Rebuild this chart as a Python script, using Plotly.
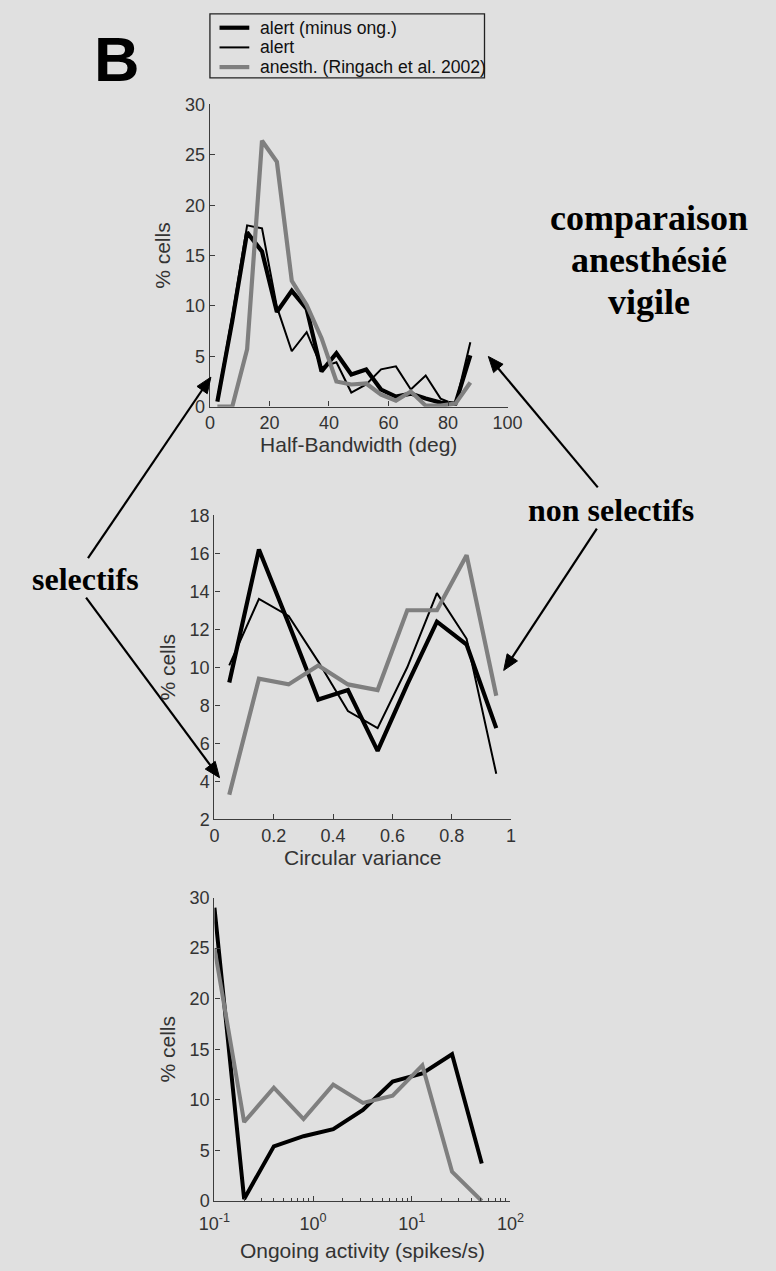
import math
import plotly.graph_objects as go

W, H = 776, 1271

# ---- Orientation tuning: half-bandwidth histogram (bin centres, deg) ----
hbw_bins = [2.5, 7.5, 12.5, 17.5, 22.5, 27.5, 32.5, 37.5, 42.5,
            47.5, 52.5, 57.5, 62.5, 67.5, 72.5, 77.5, 82.5, 87.5]
hbw_alert_minus_ong = [0.5, 8.5, 17.3, 15.4, 9.4, 11.5, 9.7, 3.5, 5.3,
                       3.2, 3.7, 1.7, 1.0, 1.3, 0.8, 0.4, 0.3, 5.1]
hbw_alert = [0.7, 9.0, 18.0, 17.7, 9.9, 5.5, 7.4, 3.9, 4.4,
             1.4, 2.2, 3.7, 4.0, 1.7, 3.1, 0.8, 0.2, 6.4]
hbw_anesth = [0.0, 0.0, 5.7, 26.4, 24.3, 12.5, 10.1, 6.8, 2.5,
              2.2, 2.3, 1.2, 0.6, 1.5, 0.1, 0.1, 0.3, 2.4]

# ---- Circular variance histogram ----
cv_bins = [0.05, 0.15, 0.25, 0.35, 0.45, 0.55, 0.65, 0.75, 0.85, 0.95]
cv_alert_minus_ong = [9.2, 16.2, 12.3, 8.3, 8.8, 5.6, 9.1, 12.4, 11.2, 6.8]
cv_alert = [10.1, 13.6, 12.7, 10.3, 7.7, 6.8, 10.0, 13.9, 11.5, 4.4]
cv_anesth = [3.3, 9.4, 9.1, 10.1, 9.1, 8.8, 13.0, 13.0, 15.9, 8.5]

# ---- Ongoing activity histogram (log-spaced bins, spikes/s) ----
oa_bins = [0.1, 0.2, 0.4, 0.8, 1.6, 3.2, 6.4, 12.8, 25.6, 51.2]
oa_alert = [29.0, 0.2, 5.4, 6.4, 7.1, 9.0, 11.8, 12.6, 14.5, 3.7]
oa_anesth = [25.0, 7.8, 11.2, 8.1, 11.5, 9.7, 10.4, 13.4, 2.9, 0.0]

# ---- Axis ticks ----
hbw_ticks = [0, 20, 40, 60, 80, 100]
hbw_yticks = [0, 5, 10, 15, 20, 25, 30]
cv_ticks = [0, 0.2, 0.4, 0.6, 0.8, 1]
cv_ticktext = ["0", "0.2", "0.4", "0.6", "0.8", "1"]
cv_yticks = [2, 4, 6, 8, 10, 12, 14, 16, 18]
oa_ticks = [0.1, 1, 10, 100]
oa_ticktext = ["10<sup>-1</sup>", "10<sup>0</sup>", "10<sup>1</sup>", "10<sup>2</sup>"]
oa_minor = [m * d for d in (0.1, 1, 10) for m in range(2, 10)]
oa_yticks = [0, 5, 10, 15, 20, 25, 30]

names = ["alert (minus ong.)", "alert", "anesth. (Ringach et al. 2002)"]

BG = "#e0e0e0"
GREY = "#7f7f7f"
AX = "#3c3c3c"
SANS = "Liberation Sans, Arial, sans-serif"
SERIF = "Liberation Serif, Times New Roman, serif"


def px_x(p):
    return p / W


def px_y(p):
    return 1 - p / H


fig = go.Figure()

styles = [dict(color="black", width=4.2),
          dict(color="black", width=2.0),
          dict(color=GREY, width=4.2)]

# top panel
for name, ys, st in zip(names, [hbw_alert_minus_ong, hbw_alert, hbw_anesth], styles):
    fig.add_trace(go.Scatter(x=hbw_bins, y=ys, mode="lines", name=name, line=st,
                             xaxis="x", yaxis="y", showlegend=False))
# middle panel
for name, ys, st in zip(names, [cv_alert_minus_ong, cv_alert, cv_anesth], styles):
    fig.add_trace(go.Scatter(x=cv_bins, y=ys, mode="lines", name=name, line=st,
                             xaxis="x2", yaxis="y2", showlegend=False))
# bottom panel
fig.add_trace(go.Scatter(x=oa_bins, y=oa_alert, mode="lines", name=names[0],
                         line=dict(color="black", width=4.0),
                         xaxis="x3", yaxis="y3", showlegend=False))
fig.add_trace(go.Scatter(x=oa_bins, y=oa_anesth, mode="lines", name=names[2],
                         line=dict(color=GREY, width=4.0),
                         xaxis="x3", yaxis="y3", showlegend=False))

tickfont = dict(family=SANS, size=18, color="#333")
titlefont = dict(family=SANS, size=21, color="#333")

common = dict(showline=True, linecolor=AX, linewidth=1.4, ticks="inside", ticklen=5,
              tickcolor=AX, tickwidth=1.2, showgrid=False, zeroline=False,
              tickfont=tickfont, mirror=False)

fig.update_layout(
    xaxis=dict(domain=[px_x(202), px_x(512)], range=[0, 100], tickvals=hbw_ticks,
               anchor="y", title=dict(text="Half-Bandwidth (deg)", font=titlefont, standoff=4),
               **common),
    yaxis=dict(domain=[px_y(403), px_y(96)], range=[0, 30], tickvals=hbw_yticks,
               anchor="x", title=dict(text="% cells", font=titlefont, standoff=8),
               **common),
    xaxis2=dict(domain=[px_x(206.7), px_x(515.7)], range=[0, 1], tickvals=cv_ticks,
                ticktext=cv_ticktext, anchor="y2",
                title=dict(text="Circular variance", font=titlefont, standoff=4), **common),
    yaxis2=dict(domain=[px_y(822.3), px_y(513.3)], range=[2, 18], tickvals=cv_yticks,
                anchor="x2", title=dict(text="% cells", font=titlefont, standoff=8),
                **common),
    xaxis3=dict(domain=[px_x(206.7), px_x(515)], type="log", range=[-1, 2],
                tickvals=oa_ticks, ticktext=oa_ticktext, anchor="y3",
                ticklabelstandoff=6,
                minor=dict(tickvals=oa_minor, ticks="inside", ticklen=3,
                           tickcolor=AX, tickwidth=1),
                title=dict(text="Ongoing activity (spikes/s)", font=titlefont, standoff=10),
                **common),
    yaxis3=dict(domain=[px_y(1210), px_y(901.7)], range=[0, 30], tickvals=oa_yticks,
                anchor="x3", title=dict(text="% cells", font=titlefont, standoff=8),
                **common),
)

shapes = []
annotations = []

# key box with line samples and labels
legend_rows = [18, 38, 58]
shapes.append(dict(type="rect", xref="paper", yref="paper",
                   x0=px_x(202), x1=px_x(488), y0=px_y(69), y1=px_y(4),
                   line=dict(color="#222", width=1.3), fillcolor="rgba(0,0,0,0)"))
for name, st, row in zip(names, styles, legend_rows):
    shapes.append(dict(type="line", xref="paper", yref="paper",
                       x0=px_x(212), x1=px_x(243), y0=px_y(row), y1=px_y(row),
                       line=st))
    annotations.append(dict(text=name, x=px_x(252), y=px_y(row), xref="paper", yref="paper",
                            showarrow=False, xanchor="left", yanchor="middle",
                            font=dict(family=SANS, size=17.6, color="#111")))

# panel letter
annotations.append(dict(text="<b>B</b>", x=px_x(105), y=px_y(49.5), xref="paper", yref="paper",
                        showarrow=False, font=dict(family=SANS, size=63, color="black"),
                        xanchor="center", yanchor="middle"))

# side labels
for line, yc in zip(["comparaison", "anesthésié", "vigile"], [211, 254, 297]):
    annotations.append(dict(text="<b>" + line + "</b>", x=px_x(659), y=px_y(yc),
                            xref="paper", yref="paper", showarrow=False,
                            font=dict(family=SERIF, size=36, color="black"),
                            xanchor="center", yanchor="middle"))
annotations.append(dict(text="<b>non selectifs</b>", x=px_x(619.5), y=px_y(508),
                        xref="paper", yref="paper", showarrow=False,
                        font=dict(family=SERIF, size=32, color="black"),
                        xanchor="center", yanchor="middle"))
annotations.append(dict(text="<b>selectifs</b>", x=px_x(72), y=px_y(578),
                        xref="paper", yref="paper", showarrow=False,
                        font=dict(family=SERIF, size=32, color="black"),
                        xanchor="center", yanchor="middle"))


def arrow_shapes(tail, tip, head_len=16.0, head_half=6.5, width=2.2):
    """Shaft plus filled triangular head, given in page pixels."""
    dx, dy = tip[0] - tail[0], tip[1] - tail[1]
    length = math.hypot(dx, dy)
    ux, uy = dx / length, dy / length
    bx, by = tip[0] - ux * head_len, tip[1] - uy * head_len
    nx, ny = -uy, ux
    lx, ly = bx + nx * head_half, by + ny * head_half
    rx, ry = bx - nx * head_half, by - ny * head_half
    shaft = dict(type="line", xref="paper", yref="paper",
                 x0=px_x(tail[0]), y0=px_y(tail[1]), x1=px_x(bx + ux), y1=px_y(by + uy),
                 line=dict(color="black", width=width))
    path = "M {:.5f},{:.5f} L {:.5f},{:.5f} L {:.5f},{:.5f} Z".format(
        px_x(tip[0]), px_y(tip[1]), px_x(lx), px_y(ly), px_x(rx), px_y(ry))
    head = dict(type="path", xref="paper", yref="paper", path=path,
                fillcolor="black", line=dict(color="black", width=1))
    return [shaft, head]


for tail, tip in [((75, 557), (203, 373)),
                  ((73, 597), (212, 780)),
                  ((606, 485), (492, 352)),
                  ((605, 527), (508, 671))]:
    shapes += arrow_shapes(tail, tip)

fig.update_layout(
    width=W, height=H, margin=dict(l=0, r=0, t=0, b=0),
    paper_bgcolor=BG, plot_bgcolor=BG, showlegend=False,
    shapes=shapes, annotations=annotations,
)

fig.write_html("out.html")
